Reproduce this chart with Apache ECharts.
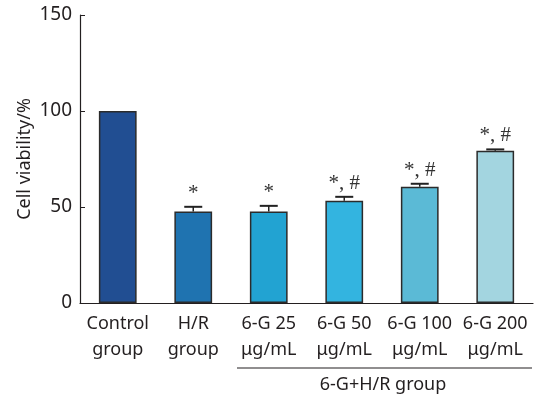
<!DOCTYPE html>
<html><head><meta charset="utf-8">
<script src="https://cdn.jsdelivr.net/npm/echarts@6/dist/echarts.min.js"></script>
<style>html,body{margin:0;padding:0;background:#fff}#c{width:537px;height:396px}</style>
</head><body><div id="c"></div>
<script>
var categories = ['Control\ngroup', 'H/R\ngroup', '6-G 25\nμg/mL', '6-G 50\nμg/mL', '6-G 100\nμg/mL', '6-G 200\nμg/mL'];
var values = [100, 47.6, 47.6, 53.3, 60.6, 79.3];
var errors = [0, 2.5, 3.0, 2.0, 1.5, 0.7];
var marks = ['', '*', '*', '*, #', '*, #', '*, #'];
var colors = ['#214e92', '#1f73b0', '#22a3d2', '#33b4e0', '#5bbad6', '#a3d5e0'];
var yTicks = [0, 50, 100, 150];

var chart = echarts.init(document.getElementById('c'));
var barData = values.map(function (v, i) {
  return { value: v, itemStyle: { color: colors[i] } };
});
var errData = values.map(function (v, i) { return [i, v, errors[i], marks[i]]; });

chart.setOption({
  animation: false,
  grid: { left: 80, right: 4, top: 15, bottom: 93 },
  xAxis: {
    type: 'category', data: categories,
    axisLine: { lineStyle: { color: '#231f20', width: 1.2 } },
    axisTick: { show: false },
    axisLabel: { color: '#231f20', fontSize: 18, fontFamily: 'Noto Sans', lineHeight: 26, margin: 8, interval: 0 }
  },
  yAxis: {
    type: 'value', min: 0, max: 150, interval: 50,
    name: 'Cell viability/%', nameLocation: 'middle', nameGap: 46, nameMoveOverlap: false,
    nameTextStyle: { color: '#231f20', fontSize: 18, fontFamily: 'Noto Sans' },
    axisLine: { show: true, lineStyle: { color: '#231f20', width: 1.2 } },
    axisTick: { show: true, inside: true, length: 5, lineStyle: { color: '#231f20' } },
    splitLine: { show: false },
    axisLabel: { color: '#231f20', fontSize: 19, fontFamily: 'Noto Sans', margin: 8,
      formatter: function (v) { return yTicks.indexOf(v) >= 0 ? String(v) : ''; } }
  },
  series: [
    {
      type: 'bar', data: barData, barWidth: '50%',
      itemStyle: { borderColor: '#2b2b2b', borderWidth: 1.5 }
    },
    {
      type: 'custom', data: errData, z: 5,
      renderItem: function (params, api) {
        var i = api.value(0), v = api.value(1), e = api.value(2);
        var m = marks[params.dataIndex];
        var top = api.coord([i, v + e]);
        var base = api.coord([i, v]);
        var children = [];
        if (e > 0) {
          children.push({ type: 'line', shape: { x1: top[0], y1: base[1], x2: top[0], y2: top[1] }, style: { stroke: '#222', lineWidth: 1.5 } });
          children.push({ type: 'line', shape: { x1: top[0] - 9, y1: top[1], x2: top[0] + 9, y2: top[1] }, style: { stroke: '#222', lineWidth: 2 } });
        }
        if (m) {
          children.push({ type: 'text', x: top[0], y: top[1] - 3,
            style: { text: m, fill: '#333', font: '21px "Liberation Serif"', align: 'center', verticalAlign: 'bottom' } });
        }
        return { type: 'group', children: children };
      }
    }
  ],
  graphic: [
    { type: 'line', shape: { x1: 237, y1: 368, x2: 532, y2: 368 }, style: { stroke: '#231f20', lineWidth: 1.2 } },
    { type: 'text', x: 383, y: 385, style: { text: '6-G+H/R group', fill: '#231f20', font: '18px "Noto Sans"', align: 'center', verticalAlign: 'middle' } }
  ]
});
</script></body></html>
